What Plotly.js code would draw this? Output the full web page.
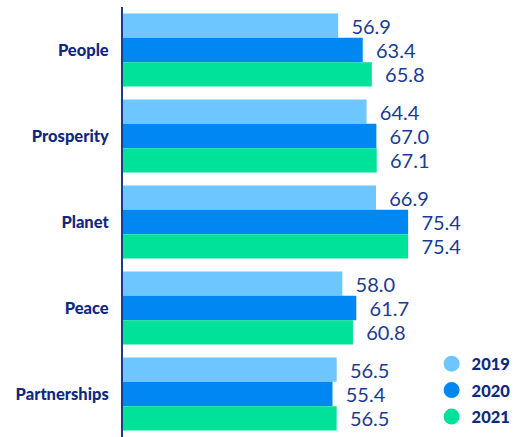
<!DOCTYPE html>
<html><head><meta charset="utf-8">
<script src="https://cdn.plot.ly/plotly-3.0.1.min.js"></script>
<style>html,body{margin:0;padding:0;background:#fff}#chart{width:528px;height:437px}</style>
</head><body><div id="chart"></div>
<script>
const categories = ["People", "Prosperity", "Planet", "Peace", "Partnerships"];
const seriesNames = ["2019", "2020", "2021"];
const values2019 = [56.9, 64.4, 66.9, 58.0, 56.5];
const values2020 = [63.4, 67.0, 75.4, 61.7, 55.4];
const values2021 = [65.8, 67.1, 75.4, 60.8, 56.5];
const colors = ["#6DC6FF", "#0087F1", "#00E199"];
const navy = "#1B3B91";
const labelNavy = "#10297F";

const allValues = [values2019, values2020, values2021];
const traces = allValues.map((vals, i) => ({
  type: "bar", orientation: "h",
  x: vals, y: categories,
  name: seriesNames[i],
  marker: {color: colors[i]},
  text: vals.map(v => "\u00a0\u00a0" + v.toFixed(1)),
  textposition: "outside",
  textfont: {family: "Lato", size: 20, color: navy},
  cliponaxis: false,
  showlegend: false,
  hoverinfo: "skip"
}));
seriesNames.forEach((n, i) => traces.push({
  type: "scatter", mode: "markers",
  x: [null], y: [null], name: n,
  legendgroup: "g" + i,
  marker: {color: colors[i], size: 20, symbol: "circle"},
  showlegend: true
}));

Plotly.newPlot("chart", traces, {
  width: 528, height: 437,
  margin: {l: 123, r: 0, t: 7, b: 0, pad: 0},
  barmode: "group", bargap: 0.15, bargroupgap: 0,
  paper_bgcolor: "#fff", plot_bgcolor: "#fff",
  xaxis: {range: [0, 107.1], automargin: false, showgrid: false, zeroline: false, showticklabels: false, showline: false, fixedrange: true},
  yaxis: {autorange: "reversed", automargin: false, showgrid: false, zeroline: false, showline: true, linecolor: navy, linewidth: 2,
          ticks: "outside", ticklen: 9, tickcolor: "rgba(0,0,0,0)",
          tickfont: {family: "Lato", size: 16.5, color: labelNavy, weight: 900}},
  showlegend: true,
  legend: {x: 0.762, xanchor: "left", y: 0.006, yanchor: "bottom", tracegroupgap: 2,
           font: {family: "Lato", size: 16.5, color: labelNavy, weight: 900}, bgcolor: "rgba(0,0,0,0)"}
}, {staticPlot: true});
</script></body></html>
